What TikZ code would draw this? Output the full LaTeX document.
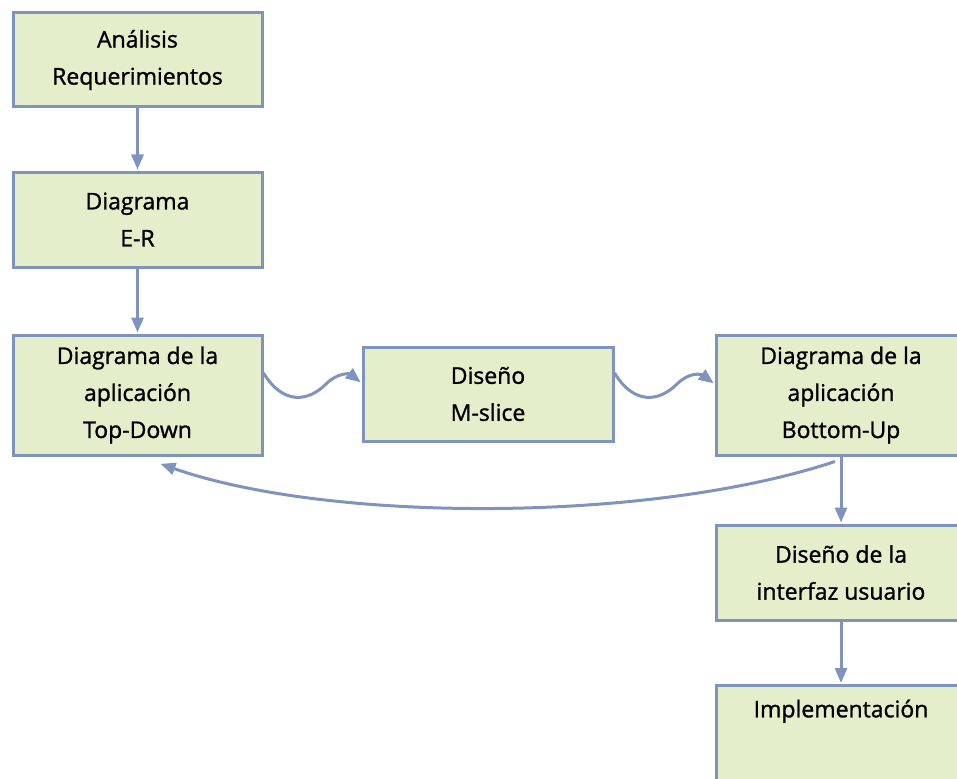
\documentclass[tikz,border=0pt]{standalone}
\usepackage{fontspec}
\setmainfont{Open Sans}
\newfontfamily\stagefont{Open Sans}[FakeBold=1.2]
\usetikzlibrary{arrows.meta}
\definecolor{edge}{RGB}{126,148,190}
\definecolor{boxfill}{RGB}{228,238,202}
\begin{document}
\begin{tikzpicture}[x=1pt,y=-1pt,
  stagebox/.style={draw=edge,fill=boxfill,line width=3pt,rectangle,
    minimum width=249pt,inner sep=0pt,align=center,
    font=\stagefont\fontsize{23}{37}\selectfont},
  arr/.style={draw=edge,line width=3pt,
    -{Triangle[length=15pt,width=12pt]},shorten >=1pt}]
\useasboundingbox (0,0) rectangle (957,778);
\clip (0,0) rectangle (957,778);

% left column
\node[stagebox,minimum height=94pt]  (req) at (137.5,60)   {Análisis\\Requerimientos};
\node[stagebox,minimum height=95pt]  (er)  at (137.5,219.5) {Diagrama\\E-R};
\node[stagebox,minimum height=120pt] (td)  at (137.5,395)  {Diagrama de la\\aplicación\\Top-Down};

% middle
\node[stagebox,minimum width=250pt,minimum height=94pt] (ms) at (488,394) {Diseño\\M-slice};

% right column
\node[stagebox,minimum width=250pt,minimum height=120pt] (bu) at (841,395) {Diagrama de la\\aplicación\\Bottom-Up};
\node[stagebox,minimum width=250pt,minimum height=95pt]  (ui) at (841,572.5) {Diseño de la\\interfaz usuario};
\node[stagebox,minimum width=250pt,minimum height=120pt,anchor=north] (impl) at (841,684)
  {Implementación\\\mbox{}\\\mbox{}};

% straight connectors
\draw[arr] (req) -- (er);
\draw[arr] (er) -- (td);
\draw[arr] (bu) -- (ui);
\draw[arr] (ui) -- (impl);

% wavy connectors
\draw[arr] ([yshift=22pt]td.east) .. controls (283,405) and (308,402) .. (326,384)
  .. controls (338,372) and (350,374) .. ([yshift=11pt]ms.west);
\draw[arr] ([yshift=21pt]ms.east) .. controls (634,405) and (659,402) .. (677,384)
  .. controls (689,372) and (701,374) .. ([yshift=11pt]bu.west);

% return arc from Bottom-Up to Top-Down
\draw[arr] ([xshift=-6pt,yshift=-5pt]bu.south) .. controls (650,523) and (330,523)
  .. ([xshift=22pt,yshift=-7pt]td.south);
\end{tikzpicture}
\end{document}
